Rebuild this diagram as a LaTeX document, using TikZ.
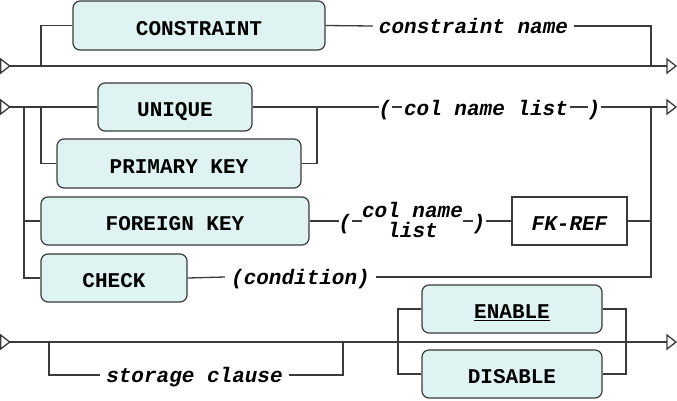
\documentclass[tikz,border=0pt]{standalone}
\usepackage{fontspec}
\setmonofont{Liberation Mono}
\usepackage{tikz}
\usetikzlibrary{positioning}
\usepackage{xcolor}
\definecolor{railgray}{RGB}{58,58,58}
\definecolor{kwcyan}{RGB}{224,243,243}
\newcommand{\kwfont}{\fontsize{21}{20}\selectfont\ttfamily\bfseries}
\newcommand{\argfont}{\fontsize{21}{20}\selectfont\ttfamily\bfseries\itshape}

\begin{document}
\begin{tikzpicture}[
  x=1pt,y=-1pt,
  rail/.style={draw=railgray,line width=1.3pt},
  kw/.style={rectangle,rounded corners=7pt,draw=railgray,line width=1.2pt,fill=kwcyan,
             font=\kwfont,inner sep=0pt,text height=19pt,text depth=0pt},
  fkbox/.style={rectangle,draw=railgray,line width=1.2pt,fill=white,
                font=\argfont,inner sep=0pt,text height=19pt,text depth=0pt},
  arg/.style={font=\argfont,inner sep=6pt,text height=16pt,text depth=2pt},
  paren/.style={font=\argfont,inner xsep=0pt,inner ysep=0pt,text height=16pt,text depth=0pt},
  railend/.pic={\draw[rail] (0,-7) -- (9,0) -- (0,7) -- cycle;}
]
\useasboundingbox (0,0) rectangle (677,400);

% keyword and argument boxes
\node[kw,minimum width=252pt,minimum height=49pt] (cons) at (199,25.5) {CONSTRAINT};
\node[arg] (cname) at (473.5,26) {constraint name};
\node[kw,minimum width=154pt,minimum height=48pt] (uniq) at (175,107) {UNIQUE};
\node[kw,minimum width=244pt,minimum height=49pt] (pkey) at (179,163.5) {PRIMARY KEY};
\node[kw,minimum width=268pt,minimum height=48pt] (fkey) at (175,221) {FOREIGN KEY};
\node[kw,minimum width=146pt,minimum height=48pt] (check) at (114,278) {CHECK};
\node[paren] (lpa) at (385,107) {(};
\node[paren,inner xsep=2pt] (cola) at (486,107) {col name list};
\node[paren] (rpa) at (594,107) {)};
\node[paren] (lpb) at (345,221) {(};
\node[font=\argfont,align=center,inner sep=0pt] (colb) at (412.5,220) {col name\\list};
\node[paren] (rpb) at (479,221) {)};
\node[fkbox,minimum width=115pt,minimum height=48pt] (fkref) at (569.5,221) {FK-REF};
\node[arg] (cond) at (300.5,277) {(condition)};
\node[arg] (stor) at (194.5,375) {storage clause};
\node[kw,minimum width=180pt,minimum height=48pt] (enab) at (512,309) {\underline{ENABLE}};
\node[kw,minimum width=180pt,minimum height=48pt] (disab) at (512,374) {DISABLE};

% row 1
\coordinate (b1) at (0.7,66);
\coordinate (s1) at (9.7,66);
\coordinate (e1) at (667,66);
\coordinate (j1) at (41,66);
\coordinate (k1) at (651,66);
\pic at (b1) {railend};
\pic at (e1) {railend};
\draw[rail] (s1) -- (e1);
\draw[rail] (j1) |- (cons.west);
\draw[rail] (cons.east) -- (cname.west);
\draw[rail] (cname.east) -| (k1);

% row 2
\coordinate (b2) at (0.7,107);
\coordinate (s2) at (9.7,107);
\coordinate (e2) at (667,107);
\coordinate (ja) at (24,107);
\coordinate (jb) at (41,107);
\coordinate (jc) at (317,107);
\coordinate (jd) at (651,107);
\pic at (b2) {railend};
\pic at (e2) {railend};
\draw[rail] (s2) -- (uniq.west);
\draw[rail] (ja) |- (fkey.west);
\draw[rail] (ja) |- (check.west);
\draw[rail] (jb) |- (pkey.west);
\draw[rail] (pkey.east) -| (jc);
\draw[rail] (uniq.east) -- (lpa.west);
\draw[rail] (lpa.east) -- (cola.west);
\draw[rail] (cola.east) -- (rpa.west);
\draw[rail] (rpa.east) -- (e2);
\draw[rail] (fkey.east) -- (lpb.west);
\draw[rail] (lpb.east) -- (lpb.east -| colb.west);
\draw[rail] (colb.east |- rpb.west) -- (rpb.west);
\draw[rail] (rpb.east) -- (fkref.west);
\draw[rail] (fkref.east) -| (jd);
\draw[rail] (check.east) -- (cond.west);
\draw[rail] (cond.east) -| (jd);

% row 3
\coordinate (b3) at (0.7,342);
\coordinate (s3) at (9.7,342);
\coordinate (e3) at (667,342);
\coordinate (jf) at (49,342);
\coordinate (jg) at (343,342);
\coordinate (jh) at (398,342);
\coordinate (ji) at (626,342);
\pic at (b3) {railend};
\pic at (e3) {railend};
\draw[rail] (s3) -- (e3);
\draw[rail] (jf) |- (stor.west);
\draw[rail] (stor.east) -| (jg);
\draw[rail] (enab.west) -| (jh) |- (disab.west);
\draw[rail] (enab.east) -| (ji) |- (disab.east);
\end{tikzpicture}
\end{document}
